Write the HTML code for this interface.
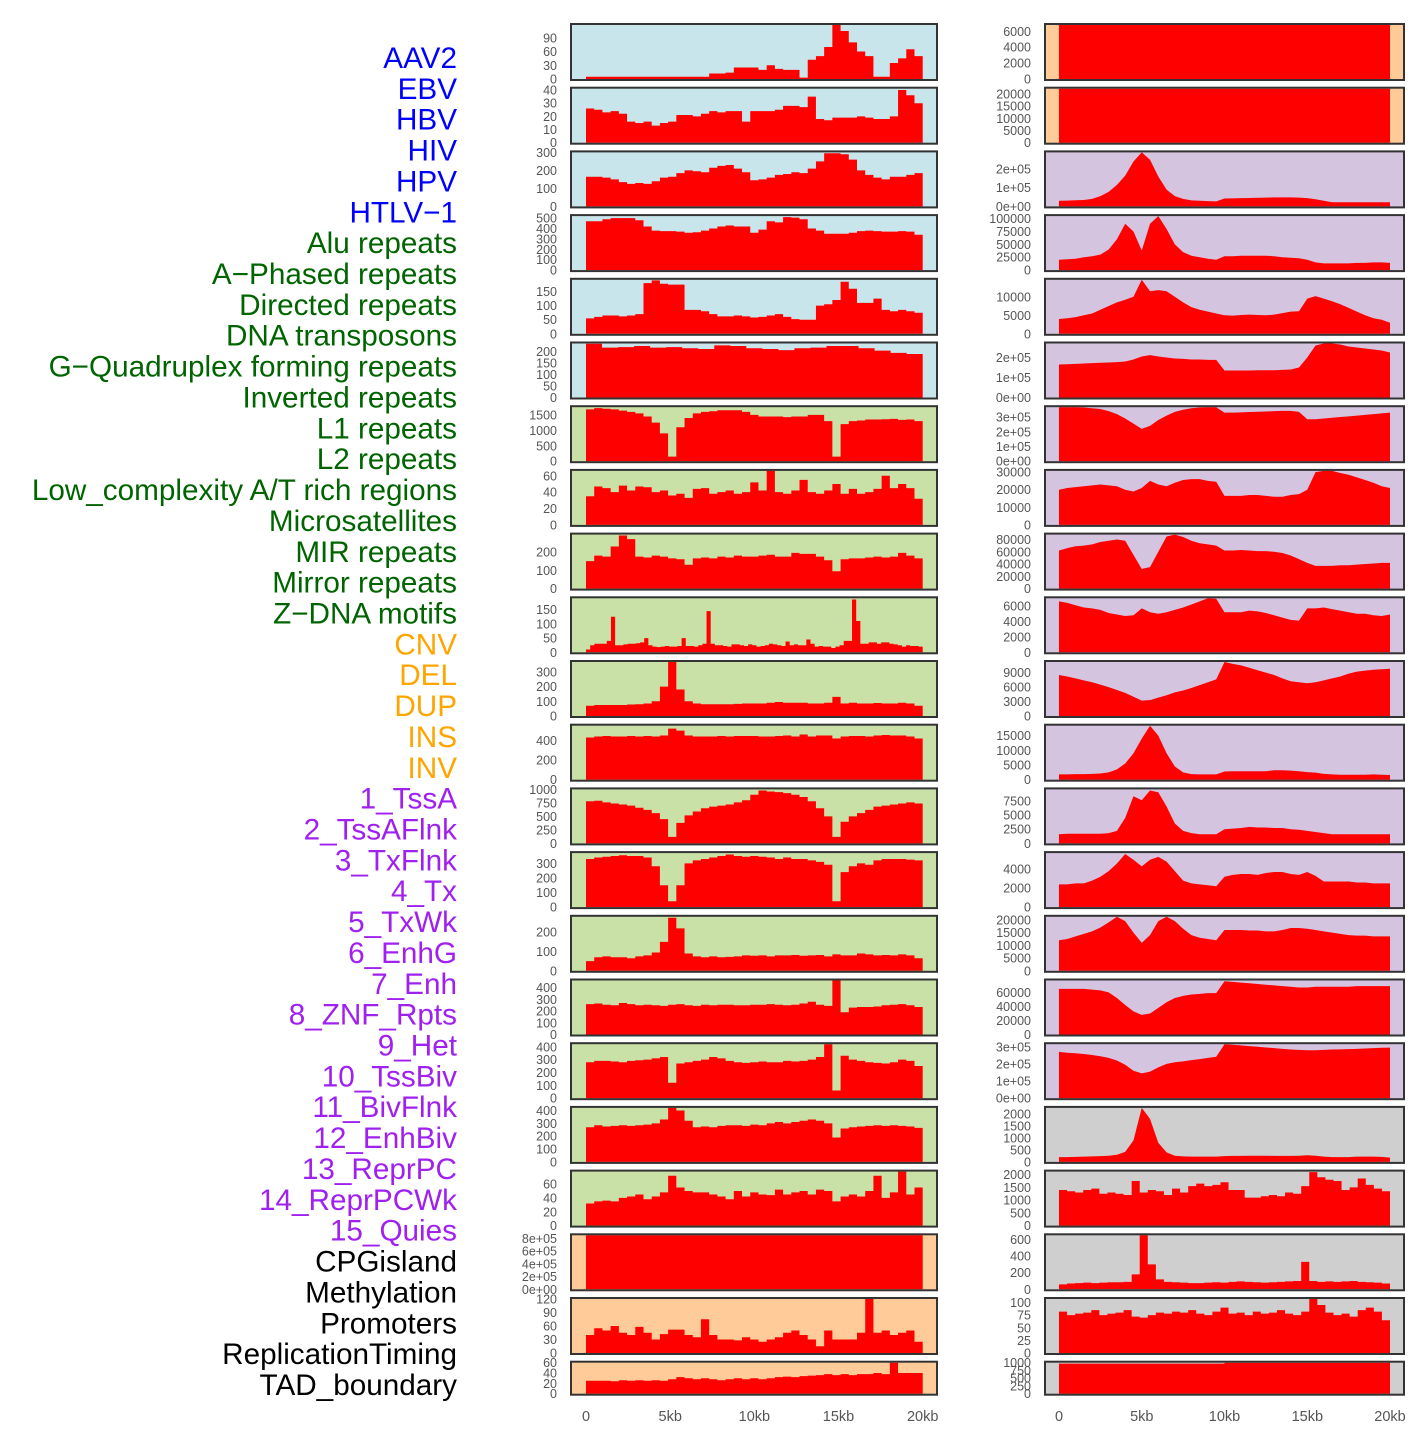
<!DOCTYPE html>
<html><head><meta charset="utf-8"><style>
html,body{margin:0;padding:0;background:#fff;}
svg{display:block;font-family:"Liberation Sans",sans-serif;}
</style></head><body>
<svg id="chart" width="1420" height="1450" viewBox="0 0 1420 1450" xmlns="http://www.w3.org/2000/svg">
<g id="track-labels"></g>
<g id="panels"></g>
<g id="xaxes"></g>
</svg>
<script>
const trackNames = ["AAV2","EBV","HBV","HIV","HPV","HTLV\u22121","Alu repeats","A\u2212Phased repeats","Directed repeats","DNA transposons","G\u2212Quadruplex forming repeats","Inverted repeats","L1 repeats","L2 repeats","Low_complexity A/T rich regions","Microsatellites","MIR repeats","Mirror repeats","Z\u2212DNA motifs","CNV","DEL","DUP","INS","INV","1_TssA","2_TssAFlnk","3_TxFlnk","4_Tx","5_TxWk","6_EnhG","7_Enh","8_ZNF_Rpts","9_Het","10_TssBiv","11_BivFlnk","12_EnhBiv","13_ReprPC","14_ReprPCWk","15_Quies","CPGisland","Methylation","Promoters","ReplicationTiming","TAD_boundary"];
const trackGroups = [0,0,0,0,0,0,1,1,1,1,1,1,1,1,1,1,1,1,1,2,2,2,2,2,3,3,3,3,3,3,3,3,3,3,3,3,3,3,3,4,4,4,4,4];
const xTickValues = [0,5,10,15,20];
const xTickLabels = ["0","5kb","10kb","15kb","20kb"];

// ---- left column data ----
const vals_L01 = [5,5,5,5,5,5,5,5,5,5,5,5,5,5,5,12,12,14,25,25,25,20,30,22,20,20,3,42,50,70,118,105,80,60,50,5,5,35,45,65,50];
const vals_L02 = [26,25,23,24,22,16,15,16,13,15,16,21,21,20,22,24,23,24,24,16,24,24,24,25,28,28,27,35,18,17,19,19,19,20,19,18,18,20,40,36,30];
const vals_L03 = [165,165,160,150,135,125,130,125,140,160,165,185,200,195,190,215,225,230,210,190,145,150,160,175,180,190,185,210,250,295,295,290,260,200,175,160,150,165,165,175,185];
const vals_L04 = [470,470,490,500,500,500,480,420,380,375,375,370,360,365,380,400,420,430,420,420,360,390,470,460,510,505,490,400,380,350,350,350,360,375,380,375,370,370,375,370,340];
const vals_L05 = [55,60,65,65,62,65,70,180,190,178,175,175,85,85,80,70,62,62,65,62,58,60,65,70,60,52,50,50,100,105,120,185,160,110,110,125,85,80,85,80,75];
const vals_L06 = [235,218,220,225,218,220,215,212,228,225,215,212,207,215,218,225,225,215,205,195,190];
const vals_L07 = [1680,1720,1700,1680,1640,1600,1550,1450,1250,900,150,1100,1400,1550,1600,1620,1650,1650,1650,1600,1500,1450,1450,1450,1430,1450,1450,1500,1500,1300,150,1200,1300,1320,1350,1350,1360,1370,1340,1350,1300];
const vals_L08 = [35,47,45,40,48,42,47,46,40,42,36,38,33,44,45,38,40,42,38,40,52,42,66,40,38,42,55,40,38,42,50,38,44,38,40,44,60,45,50,45,32];
const vals_L09 = [150,180,175,230,290,270,175,170,180,175,165,160,130,165,170,165,175,170,180,175,175,180,185,175,175,195,190,190,175,155,95,160,165,165,170,175,170,175,195,180,165];
const vals_L10 = [10,25,30,30,30,40,125,25,25,28,30,30,32,35,50,25,20,18,20,22,20,20,22,50,22,22,20,25,30,145,30,25,25,22,20,28,28,25,22,28,25,20,22,25,30,28,25,22,38,25,28,25,25,45,30,20,22,20,20,15,20,25,40,40,186,110,30,30,35,35,30,35,35,30,28,25,20,25,22,22,20];
const vals_L11 = [70,75,75,75,75,78,80,85,100,200,367,180,100,85,80,80,80,80,82,85,85,85,90,95,90,90,90,85,85,90,130,85,90,85,85,88,85,85,90,85,70];
const vals_L12 = [430,440,445,440,440,445,440,445,440,450,520,500,450,440,440,440,445,440,445,445,445,440,440,445,450,440,460,440,450,450,420,440,445,445,440,450,455,450,450,440,420];
const vals_L13 = [780,790,760,740,720,700,660,620,560,450,120,380,520,590,650,680,700,720,760,800,900,980,960,950,930,900,860,780,650,500,120,400,500,560,620,680,700,720,740,760,740];
const vals_L14 = [330,340,345,350,355,350,350,340,280,150,40,150,300,320,330,340,350,360,350,345,350,345,340,330,340,330,330,320,310,290,40,240,280,300,290,320,330,330,330,325,320];
const vals_L15 = [50,70,75,70,70,65,75,80,95,150,275,220,90,75,70,75,70,72,75,80,78,80,75,80,80,82,78,80,82,75,85,80,80,90,85,80,82,80,85,80,65];
const vals_L16 = [260,265,255,250,270,260,250,255,250,245,255,260,250,245,255,250,255,255,250,250,255,255,260,255,250,255,265,280,255,245,462,190,230,235,235,240,250,255,260,250,235];
const vals_L17 = [280,290,290,285,280,290,295,300,310,320,120,270,280,290,300,320,310,290,280,275,280,285,280,280,290,285,290,300,320,420,60,330,300,290,280,275,270,280,300,290,250];
const vals_L18 = [270,285,275,280,285,280,285,290,300,330,420,400,320,270,275,270,280,285,285,280,290,285,300,310,300,310,320,330,320,300,190,260,270,275,280,285,280,285,280,275,265];
const vals_L19 = [32,35,36,35,40,42,45,38,42,48,72,55,50,48,48,45,42,38,50,42,48,45,44,52,45,48,50,45,52,50,35,42,45,42,50,72,40,48,78,45,55];
const vals_L20 = [850000];
const vals_L21 = [40,55,50,60,45,40,58,45,30,42,52,52,40,35,75,40,30,30,28,35,30,25,30,35,45,50,40,30,15,50,30,30,30,45,120,45,50,40,45,50,25];
const vals_L22 = [25,25,25,24,26,25,26,25,26,25,28,32,30,28,30,28,26,28,30,28,30,28,30,32,33,32,34,35,36,38,36,38,36,38,38,40,38,60,40,40,40];

// ---- right column data ----
const vals_R01 = [6800];
const vals_R02 = [22100];
const vals_R03 = [30000,31000,33000,34000,40000,55000,78000,115000,165000,240000,289000,250000,160000,90000,55000,40000,32000,30000,28000,27000,42000,43000,44000,45000,46000,47000,48000,48000,48000,47000,44000,38000,30000,22000,22000,22000,22000,22000,22000,22000,22000];
const vals_R04 = [20000,21000,22000,25000,27000,30000,40000,60000,90000,75000,38000,90000,105000,80000,50000,35000,28000,25000,22000,20000,27000,27000,28000,28000,28000,28000,27000,25000,24000,23000,20000,15000,13000,13000,13000,13000,14000,14000,15000,15000,14000];
const vals_R05 = [4000,4200,4500,5000,5500,6500,7500,8500,9200,10000,14600,11500,11800,11500,10000,8500,7200,6500,6000,5500,5000,4900,5100,5200,5100,5000,5200,5600,6000,6100,9500,10200,9500,8800,8000,7000,6000,5000,4200,3800,3000];
const vals_R06 = [165000,166000,168000,170000,172000,174000,175000,177000,180000,190000,205000,212000,205000,200000,195000,193000,190000,190000,188000,188000,135000,135000,135000,135000,136000,136000,136000,138000,140000,150000,200000,260000,270000,270000,265000,255000,250000,245000,240000,235000,225000];
const vals_R07 = [367000,367000,367000,365000,360000,355000,340000,320000,290000,255000,220000,240000,280000,310000,335000,350000,360000,365000,367000,367000,330000,330000,332000,334000,336000,338000,340000,342000,342000,335000,285000,285000,290000,295000,300000,305000,310000,315000,320000,325000,330000];
const vals_R08 = [20000,21000,21500,22000,22500,23000,22500,22000,20000,19000,21000,25000,23000,22000,24000,25500,26000,26000,25000,24500,16500,16500,16500,17000,17000,16500,16000,16000,17000,17500,20000,30000,30700,30700,29500,28500,27000,25500,24000,22000,21000];
const vals_R09 = [62000,66000,69000,70000,72000,76000,78000,80000,78000,55000,32000,35000,60000,85000,88000,84000,78000,74000,72000,70000,62000,62000,63000,62000,61000,61000,60000,58000,54000,48000,42000,37000,37000,37000,38000,38000,39000,40000,41000,42000,42000];
const vals_R10 = [6600,6400,6100,5800,5700,5500,5100,4900,4700,4800,5700,5200,5000,5200,5500,5800,6200,6600,7000,6950,5200,5200,5200,5400,5300,5100,4800,4500,4200,4100,5700,5700,5800,5600,5400,5200,5000,5000,4800,4700,4900];
const vals_R11 = [8500,8200,7800,7400,7000,6500,6000,5400,4800,4000,3200,3300,3800,4300,4900,5300,5800,6400,7000,7600,11200,10800,10500,10000,9500,9000,8500,7800,7200,7000,6800,7000,7400,7800,8200,8800,9200,9400,9600,9700,9800];
const vals_R12 = [1800,1800,1900,1900,2000,2100,2500,3500,5500,9000,14000,18400,15000,9000,4500,2500,1900,1800,1800,1800,2800,2900,2900,2900,2900,2900,3200,3200,3100,2900,2600,2400,2000,1800,1700,1700,1700,1700,1800,1700,1600];
const vals_R13 = [1600,1700,1700,1700,1700,1700,1800,2200,4500,8300,7600,9300,9000,6500,3500,2200,1800,1600,1600,1600,2500,2600,2700,2900,2800,2800,2700,2700,2500,2400,2200,2000,1800,1600,1600,1600,1600,1600,1600,1600,1600];
const vals_R14 = [2400,2400,2500,2500,2800,3200,3800,4600,5600,5000,4300,5000,5300,4800,3800,2800,2500,2400,2300,2200,3200,3400,3500,3500,3400,3600,3700,3700,3500,3400,3700,3300,2700,2700,2700,2700,2600,2600,2500,2500,2500];
const vals_R15 = [12000,12500,13500,14500,15500,17000,19000,21200,19500,15000,11000,14000,19500,21200,19500,16500,14000,13000,12500,12000,16000,16000,16000,15800,15800,15500,15500,16000,16800,16800,16500,16000,15500,15000,14500,14000,13800,13800,13500,13500,13500];
const vals_R16 = [65000,65000,65000,65000,64000,63000,60000,52000,42000,33000,28000,30000,38000,46000,52000,55000,57000,58000,59000,59000,76000,75000,74000,73000,72000,71000,70000,69000,68000,67000,67000,68000,68000,68000,68000,68000,69000,69000,69000,69000,69000];
const vals_R17 = [270000,265000,262000,258000,252000,245000,235000,220000,195000,160000,145000,155000,180000,200000,210000,215000,222000,228000,235000,242000,315000,312000,308000,304000,300000,296000,292000,288000,284000,282000,280000,280000,282000,284000,285000,286000,288000,290000,292000,294000,295000];
const vals_R18 = [200,200,210,220,230,240,260,300,420,900,2260,1800,800,400,260,230,220,220,220,220,240,250,250,260,260,260,250,250,250,260,280,260,220,200,200,200,220,220,220,210,180];
const vals_R19 = [1400,1350,1300,1400,1450,1250,1300,1250,1200,1750,1300,1400,1350,1200,1450,1300,1550,1650,1550,1600,1700,1400,1400,1100,1100,1150,1200,1150,1300,1250,1550,2100,1900,1800,1750,1400,1500,1850,1600,1450,1350];
const vals_R20 = [60,70,75,80,75,80,85,85,90,180,650,300,120,90,85,80,75,75,80,85,80,90,95,90,85,80,85,90,95,100,330,100,90,95,90,95,100,90,85,80,70];
const vals_R21 = [82,75,78,80,85,75,78,80,85,72,70,75,80,78,82,80,85,78,75,82,90,78,80,75,82,78,80,85,78,75,82,107,95,80,75,78,72,85,90,82,65];
const vals_R22 = [970,1000];

const yMaxLeft = [118,41,300,520,192,236,1750,66,295,190,367,550,1000,370,280,462,420,420,78,850000,120,60];
const yMaxRight = [6800,22100,289000,105000,14600,270000,367000,30700,88000,7000,11200,18400,9500,5700,21200,77000,315000,2260,2120,650,107,1000];

const ticksLeft = [[0,30,60,90],[0,10,20,30,40],[0,100,200,300],[0,100,200,300,400,500],[0,50,100,150],[0,50,100,150,200],[0,500,1000,1500],[0,20,40,60],[0,100,200],[0,50,100,150],[0,100,200,300],[0,200,400],[0,250,500,750,1000],[0,100,200,300],[0,100,200],[0,100,200,300,400],[0,100,200,300,400],[0,100,200,300,400],[0,20,40,60],[0,200000,400000,600000,800000],[0,30,60,90,120],[0,20,40,60]];
const ticksRight = [[0,2000,4000,6000],[0,5000,10000,15000,20000],[0,100000,200000],[0,25000,50000,75000,100000],[0,5000,10000],[0,100000,200000],[0,100000,200000,300000],[0,10000,20000,30000],[0,20000,40000,60000,80000],[0,2000,4000,6000],[0,3000,6000,9000],[0,5000,10000,15000],[0,2500,5000,7500],[0,2000,4000],[0,5000,10000,15000,20000],[0,20000,40000,60000],[0,100000,200000,300000],[0,500,1000,1500,2000],[0,500,1000,1500,2000],[0,200,400,600],[0,25,50,75,100],[0,250,500,750,1000]];

const valsLeft = [vals_L01,vals_L02,vals_L03,vals_L04,vals_L05,vals_L06,vals_L07,vals_L08,vals_L09,vals_L10,vals_L11,vals_L12,vals_L13,vals_L14,vals_L15,vals_L16,vals_L17,vals_L18,vals_L19,vals_L20,vals_L21,vals_L22];
const valsRight = [vals_R01,vals_R02,vals_R03,vals_R04,vals_R05,vals_R06,vals_R07,vals_R08,vals_R09,vals_R10,vals_R11,vals_R12,vals_R13,vals_R14,vals_R15,vals_R16,vals_R17,vals_R18,vals_R19,vals_R20,vals_R21,vals_R22];

const NS = "http://www.w3.org/2000/svg";
const groupColors = ["#0000ff","#006400","#ffa500","#a020f0","#000000"];
const sciLeft = [19];
const sciRight = [2,5,6,16];
const smoothRight = [2,3,4,5,6,7,8,9,10,11,12,13,14,15,16,17];
const bgBlue="#c8e5ec", bgGreen="#c9e1a6", bgPeach="#ffcc99", bgLav="#d4c4e0", bgGray="#cfcfcf";
function bgLeft(i){ return i<6?bgBlue:(i<19?bgGreen:bgPeach); }
function bgRight(i){ return i<2?bgPeach:(i<17?bgLav:bgGray); }

function mk(tag, attrs, parent){
  const e=document.createElementNS(NS,tag);
  for(const k in attrs) e.setAttribute(k,attrs[k]);
  parent.appendChild(e); return e;
}
function fmt(v, sci){
  if(!sci) return String(v);
  let s=v.toExponential(0);
  return s.replace(/e([+-])(\d)$/,'e$10$2');
}
function rowGeom(i){ return {top:24+63.7*i, h:(i===21?33:56)}; }

const labelsG=document.getElementById('track-labels');
trackNames.forEach((n,k)=>{
  const t=mk('text',{x:457,y:(68+30.86*k).toFixed(1),'text-anchor':'end','font-size':'29.7',fill:groupColors[trackGroups[k]]},labelsG);
  
  
  t.textContent=n;
});

const panelsG=document.getElementById('panels');
function drawColumn(col){
  const L = col===0;
  const frameX = L?571:1045, frameW = L?366:359;
  const d0 = L?586:1059, d1 = L?922.7:1390;
  const labX = L?557:1031;
  const vals = L?valsLeft:valsRight, ymaxs = L?yMaxLeft:yMaxRight, ticks = L?ticksLeft:ticksRight;
  const sciList = L?sciLeft:sciRight;
  const xScale = kb => d0 + (d1-d0)*kb/20;
  for(let i=0;i<22;i++){
    const g=rowGeom(i);
    const pg=mk('g',{},panelsG);
    
    
    const bg=mk('rect',{x:frameX,y:g.top,width:frameW,height:g.h,fill:L?bgLeft(i):bgRight(i)},pg);
    
    
    const base=g.top+g.h-1, ph=g.h-2;
    const ymax=ymaxs[i];
    const yScale = v => base - Math.min(v,ymax)/ymax*ph;
    const arr=vals[i], n=arr.length;
    let p='M'+xScale(0).toFixed(2)+','+base;
    const smooth = !L && smoothRight.indexOf(i)>=0 && n>2;
    if(smooth){
      for(let j=0;j<n;j++){
        p+=' L'+xScale(j*20/(n-1)).toFixed(2)+','+yScale(arr[j]).toFixed(2);
      }
    } else {
      for(let j=0;j<n;j++){
        const xa=xScale(j*20/n), xb=xScale((j+1)*20/n), y=yScale(arr[j]).toFixed(2);
        p+=' L'+xa.toFixed(2)+','+y+' L'+xb.toFixed(2)+','+y;
      }
    }
    p+=' L'+xScale(20).toFixed(2)+','+base+' Z';
    const area=mk('path',{d:p,fill:'#ff0000',stroke:'none'},pg);
    
    
    const fr=mk('rect',{x:frameX,y:g.top,width:frameW,height:g.h,fill:'none',stroke:'#333',"stroke-width":2},pg);
    
    
    const sci=sciList.indexOf(i)>=0;
    ticks[i].forEach(v=>{
      const t=mk('text',{x:labX,y:(yScale(v)+4.5).toFixed(1),'text-anchor':'end','font-size':'12.5',fill:'#555'},pg);
      
      
      t.textContent=fmt(v,sci);
    });
  }
  const xg=document.getElementById('xaxes');
  xTickValues.forEach((v,k)=>{
    const t=mk('text',{x:xScale(v).toFixed(1),y:1421,'text-anchor':'middle','font-size':'14.5',fill:'#555'},xg);
    
    
    t.textContent=xTickLabels[k];
  });
}
drawColumn(0);
drawColumn(1);
</script>
</body></html>
